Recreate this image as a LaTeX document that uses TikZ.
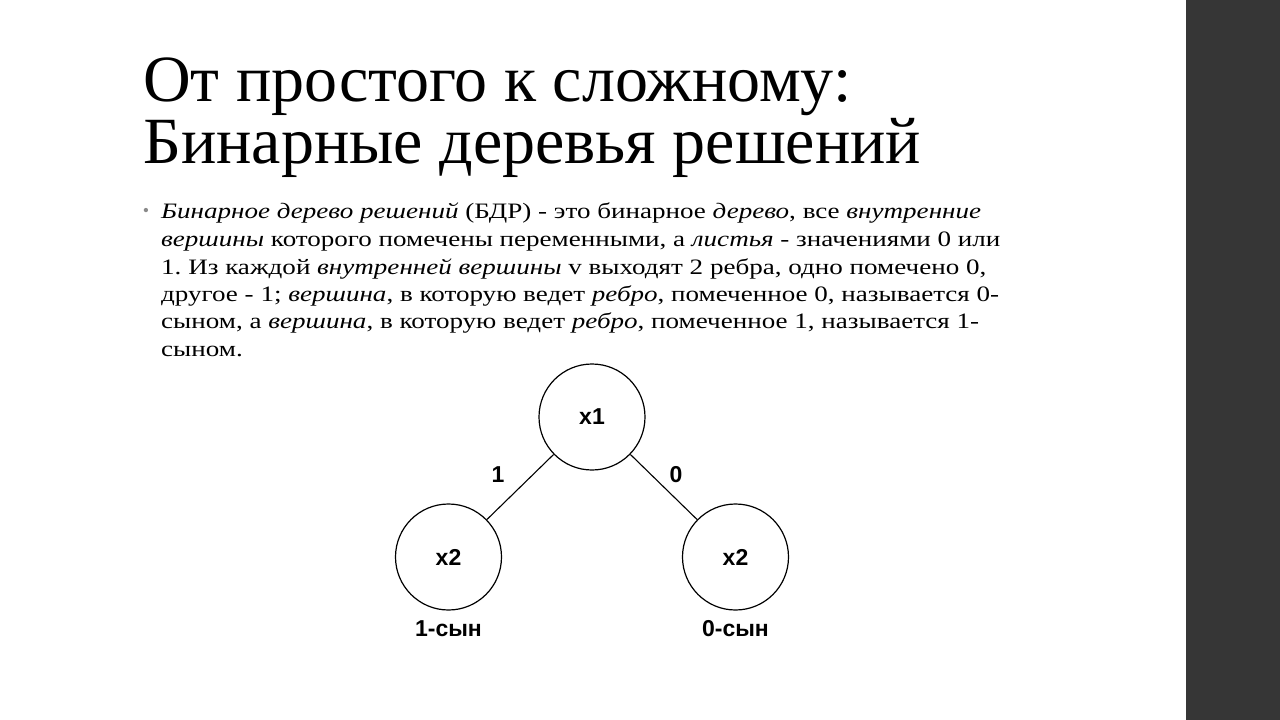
\documentclass[tikz,border=0pt]{standalone}
\usepackage{fontspec}
\setmainfont{Liberation Serif}
\setsansfont{Liberation Sans}
\newfontfamily\bodyfont[FakeStretch=1.23]{Liberation Serif}
\usetikzlibrary{positioning}
\definecolor{sidebar}{HTML}{363636}
\definecolor{bulletgray}{HTML}{8A8A8A}
\frenchspacing
\begin{document}
\begin{tikzpicture}[
    x=1pt, y=-1pt,
    level distance=140pt,
    level 1/.style={sibling distance=287pt},
    vertex/.style={circle, draw, line width=1.2pt, minimum size=106pt, inner sep=0pt,
        font=\sffamily\bfseries\fontsize{23}{27}\selectfont},
    edge from parent/.style={draw, line width=1.1pt},
    tag/.style={font=\sffamily\bfseries\fontsize{23}{27}\selectfont, text height=17pt, text depth=1pt},
    title/.style={anchor=base west, inner sep=0pt, font=\fontsize{66}{70}\selectfont},
    bodyline/.style={anchor=base west, inner sep=0pt, font=\bodyfont\fontsize{22}{27}\selectfont}
]
\useasboundingbox (0,0) rectangle (1280,720);
\fill[white] (0,0) rectangle (1280,720);
\fill[sidebar] (1186,0) rectangle (1280,720);

% title
\node[title] (title1) at (143,101) {От простого к сложному:};
\node[title] (title2) at (143,163) {Бинарные деревья решений};

% text
\node[text=bulletgray, font=\fontsize{18}{18}\selectfont] (dot) at (146,212) {•};
\node[bodyline] (line1) at (161,218) {\textit{Бинарное дерево решений} (БДР) - это бинарное \textit{дерево}, все \textit{внутренние}};
\node[bodyline] (line2) at (161,246) {\textit{вершины} которого помечены переменными, а \textit{листья} - значениями 0 или};
\node[bodyline] (line3) at (161,274) {1. Из каждой \textit{внутренней вершины} v выходят 2 ребра, одно помечено 0,};
\node[bodyline] (line4) at (161,301) {другое - 1; \textit{вершина}, в которую ведет \textit{ребро}, помеченное 0, называется 0-};
\node[bodyline] (line5) at (161,328) {сыном, а \textit{вершина}, в которую ведет \textit{ребро}, помеченное 1, называется 1-};
\node[bodyline] (line6) at (161,356) {сыном.};

% tree
\node[vertex] (x1) at (592,417) {x1}
    child {node[vertex] (x2a) {x2}
        edge from parent node[tag, above left=0pt and 12pt] (e1) {1}
    }
    child {node[vertex] (x2b) {x2}
        edge from parent node[tag, above right=0pt and 2pt] (e0) {0}
    };
\node[tag, below=5pt of x2a] (son1) {1-сын};
\node[tag, below=5pt of x2b] (son0) {0-сын};
\end{tikzpicture}
\end{document}
